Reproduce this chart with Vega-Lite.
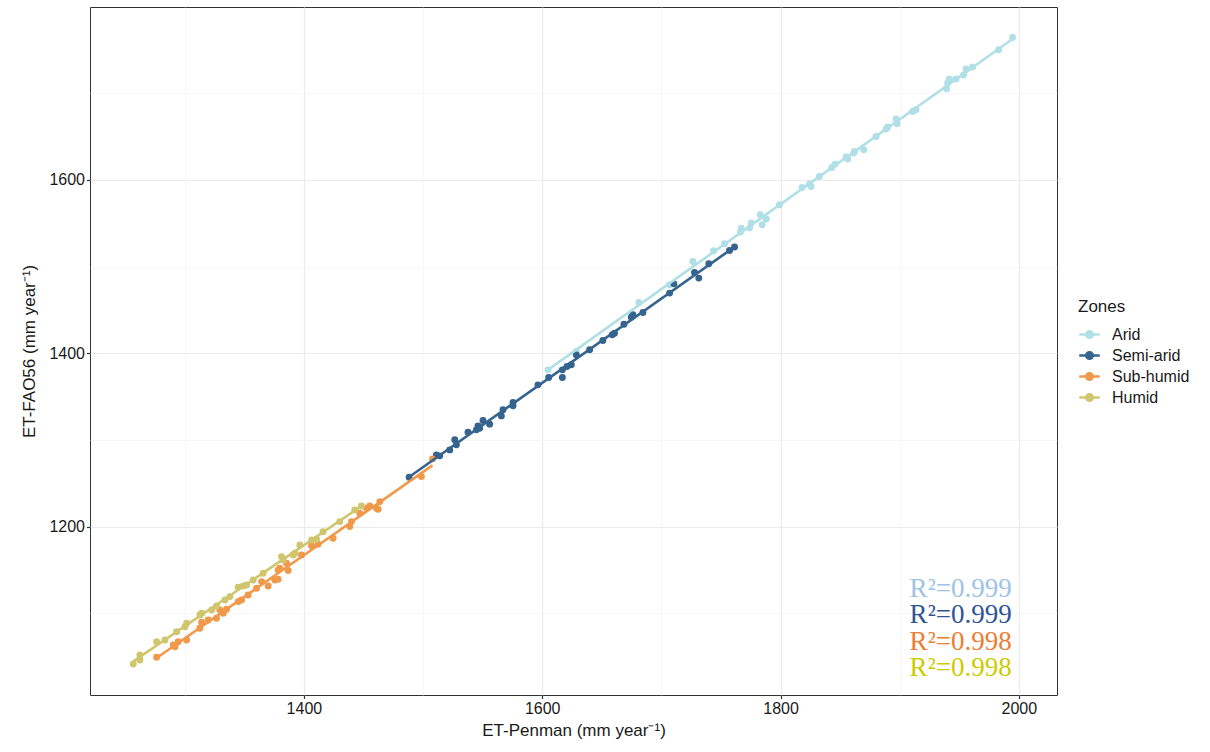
{
  "$schema": "https://vega.github.io/schema/vega-lite/v6.json",
  "width": 967,
  "height": 688,
  "autosize": {"type": "none"},
  "padding": {"left": 90, "top": 7, "right": 153, "bottom": 57},
  "background": "white",
  "config": {
    "view": {"stroke": "#333333", "strokeWidth": 1},
    "font": "Liberation Sans",
    "axis": {
      "domain": false,
      "labelFont": "Liberation Sans",
      "titleFont": "Liberation Sans",
      "labelFontSize": 16,
      "labelColor": "#1a1a1a",
      "titleFontSize": 17,
      "titleFontWeight": "normal",
      "titleColor": "#1a1a1a",
      "tickSize": 3.5,
      "tickWidth": 1.2,
      "labelPadding": 2,
      "format": "d",
      "labelExpr": "datum.value % 200 == 0 ? datum.label : ''",
      "tickColor": {"condition": {"test": "datum.value % 200 == 0", "value": "#333333"}, "value": "transparent"},
      "gridColor": {"condition": {"test": "datum.value % 200 == 0", "value": "#EBEBEB"}, "value": "#F3F3F3"},
      "gridWidth": {"condition": {"test": "datum.value % 200 == 0", "value": 1.2}, "value": 0.7}
    }
  },
  "datasets": {
    "pts": [
      {"zone": "Arid", "pen": 1994.7, "fao": 1764.2},
      {"zone": "Arid", "pen": 1983.0, "fao": 1750.0},
      {"zone": "Arid", "pen": 1961.2, "fao": 1730.1},
      {"zone": "Arid", "pen": 1955.7, "fao": 1727.8},
      {"zone": "Arid", "pen": 1953.6, "fao": 1720.8},
      {"zone": "Arid", "pen": 1947.3, "fao": 1716.2},
      {"zone": "Arid", "pen": 1941.7, "fao": 1716.2},
      {"zone": "Arid", "pen": 1940.2, "fao": 1711.6},
      {"zone": "Arid", "pen": 1939.4, "fao": 1705.0},
      {"zone": "Arid", "pen": 1913.7, "fao": 1680.8},
      {"zone": "Arid", "pen": 1910.9, "fao": 1678.8},
      {"zone": "Arid", "pen": 1897.0, "fao": 1670.1},
      {"zone": "Arid", "pen": 1897.8, "fao": 1664.6},
      {"zone": "Arid", "pen": 1890.0, "fao": 1660.8},
      {"zone": "Arid", "pen": 1888.6, "fao": 1658.5},
      {"zone": "Arid", "pen": 1880.2, "fao": 1650.0},
      {"zone": "Arid", "pen": 1869.8, "fao": 1634.7},
      {"zone": "Arid", "pen": 1862.0, "fao": 1632.7},
      {"zone": "Arid", "pen": 1861.4, "fao": 1630.8},
      {"zone": "Arid", "pen": 1855.0, "fao": 1626.2},
      {"zone": "Arid", "pen": 1856.4, "fao": 1623.9},
      {"zone": "Arid", "pen": 1845.8, "fao": 1618.1},
      {"zone": "Arid", "pen": 1843.0, "fao": 1614.2},
      {"zone": "Arid", "pen": 1832.6, "fao": 1603.8},
      {"zone": "Arid", "pen": 1825.7, "fao": 1592.3},
      {"zone": "Arid", "pen": 1818.1, "fao": 1591.1},
      {"zone": "Arid", "pen": 1824.3, "fao": 1595.1},
      {"zone": "Arid", "pen": 1799.1, "fao": 1571.2},
      {"zone": "Arid", "pen": 1788.0, "fao": 1554.7},
      {"zone": "Arid", "pen": 1782.9, "fao": 1559.7},
      {"zone": "Arid", "pen": 1784.6, "fao": 1548.1},
      {"zone": "Arid", "pen": 1775.4, "fao": 1550.1},
      {"zone": "Arid", "pen": 1774.0, "fao": 1544.3},
      {"zone": "Arid", "pen": 1767.0, "fao": 1544.3},
      {"zone": "Arid", "pen": 1766.4, "fao": 1539.7},
      {"zone": "Arid", "pen": 1753.0, "fao": 1526.2},
      {"zone": "Arid", "pen": 1743.8, "fao": 1518.1},
      {"zone": "Arid", "pen": 1726.4, "fao": 1505.8},
      {"zone": "Arid", "pen": 1706.9, "fao": 1478.9},
      {"zone": "Arid", "pen": 1681.1, "fao": 1458.5},
      {"zone": "Arid", "pen": 1628.6, "fao": 1402.0},
      {"zone": "Arid", "pen": 1604.8, "fao": 1380.8},
      {"zone": "Semi-arid", "pen": 1761.4, "fao": 1522.4},
      {"zone": "Semi-arid", "pen": 1757.2, "fao": 1518.5},
      {"zone": "Semi-arid", "pen": 1739.8, "fao": 1503.1},
      {"zone": "Semi-arid", "pen": 1727.8, "fao": 1493.1},
      {"zone": "Semi-arid", "pen": 1731.4, "fao": 1486.6},
      {"zone": "Semi-arid", "pen": 1710.5, "fao": 1480.0},
      {"zone": "Semi-arid", "pen": 1706.9, "fao": 1469.3},
      {"zone": "Semi-arid", "pen": 1684.5, "fao": 1446.9},
      {"zone": "Semi-arid", "pen": 1676.1, "fao": 1444.3},
      {"zone": "Semi-arid", "pen": 1674.7, "fao": 1441.6},
      {"zone": "Semi-arid", "pen": 1668.6, "fao": 1433.5},
      {"zone": "Semi-arid", "pen": 1660.7, "fao": 1423.1},
      {"zone": "Semi-arid", "pen": 1658.8, "fao": 1421.2},
      {"zone": "Semi-arid", "pen": 1650.9, "fao": 1414.6},
      {"zone": "Semi-arid", "pen": 1639.8, "fao": 1403.9},
      {"zone": "Semi-arid", "pen": 1628.6, "fao": 1398.1},
      {"zone": "Semi-arid", "pen": 1624.4, "fao": 1386.6},
      {"zone": "Semi-arid", "pen": 1620.8, "fao": 1384.6},
      {"zone": "Semi-arid", "pen": 1616.9, "fao": 1380.8},
      {"zone": "Semi-arid", "pen": 1616.9, "fao": 1371.9},
      {"zone": "Semi-arid", "pen": 1605.4, "fao": 1371.9},
      {"zone": "Semi-arid", "pen": 1596.4, "fao": 1363.5},
      {"zone": "Semi-arid", "pen": 1575.5, "fao": 1343.1},
      {"zone": "Semi-arid", "pen": 1575.5, "fao": 1339.3},
      {"zone": "Semi-arid", "pen": 1567.1, "fao": 1334.7},
      {"zone": "Semi-arid", "pen": 1565.7, "fao": 1327.7},
      {"zone": "Semi-arid", "pen": 1555.9, "fao": 1318.2},
      {"zone": "Semi-arid", "pen": 1550.3, "fao": 1322.3},
      {"zone": "Semi-arid", "pen": 1547.5, "fao": 1313.5},
      {"zone": "Semi-arid", "pen": 1546.1, "fao": 1316.2},
      {"zone": "Semi-arid", "pen": 1544.8, "fao": 1311.6},
      {"zone": "Semi-arid", "pen": 1537.7, "fao": 1308.9},
      {"zone": "Semi-arid", "pen": 1526.6, "fao": 1300.1},
      {"zone": "Semi-arid", "pen": 1528.0, "fao": 1294.3},
      {"zone": "Semi-arid", "pen": 1522.4, "fao": 1288.5},
      {"zone": "Semi-arid", "pen": 1514.0, "fao": 1281.6},
      {"zone": "Semi-arid", "pen": 1511.2, "fao": 1282.7},
      {"zone": "Semi-arid", "pen": 1488.3, "fao": 1257.0},
      {"zone": "Sub-humid", "pen": 1276.4, "fao": 1049.3},
      {"zone": "Sub-humid", "pen": 1290.4, "fao": 1063.5},
      {"zone": "Sub-humid", "pen": 1294.5, "fao": 1067.3},
      {"zone": "Sub-humid", "pen": 1301.6, "fao": 1069.3},
      {"zone": "Sub-humid", "pen": 1291.8, "fao": 1061.5},
      {"zone": "Sub-humid", "pen": 1312.7, "fao": 1082.8},
      {"zone": "Sub-humid", "pen": 1314.2, "fao": 1089.7},
      {"zone": "Sub-humid", "pen": 1319.7, "fao": 1092.4},
      {"zone": "Sub-humid", "pen": 1326.7, "fao": 1094.3},
      {"zone": "Sub-humid", "pen": 1329.5, "fao": 1103.9},
      {"zone": "Sub-humid", "pen": 1332.3, "fao": 1100.1},
      {"zone": "Sub-humid", "pen": 1335.1, "fao": 1104.7},
      {"zone": "Sub-humid", "pen": 1344.9, "fao": 1113.5},
      {"zone": "Sub-humid", "pen": 1347.7, "fao": 1115.4},
      {"zone": "Sub-humid", "pen": 1353.2, "fao": 1121.2},
      {"zone": "Sub-humid", "pen": 1360.3, "fao": 1128.9},
      {"zone": "Sub-humid", "pen": 1364.5, "fao": 1136.6},
      {"zone": "Sub-humid", "pen": 1370.0, "fao": 1131.6},
      {"zone": "Sub-humid", "pen": 1375.6, "fao": 1138.5},
      {"zone": "Sub-humid", "pen": 1378.4, "fao": 1139.3},
      {"zone": "Sub-humid", "pen": 1378.4, "fao": 1150.0},
      {"zone": "Sub-humid", "pen": 1379.8, "fao": 1152.0},
      {"zone": "Sub-humid", "pen": 1385.4, "fao": 1157.8},
      {"zone": "Sub-humid", "pen": 1386.8, "fao": 1149.3},
      {"zone": "Sub-humid", "pen": 1398.0, "fao": 1167.3},
      {"zone": "Sub-humid", "pen": 1406.4, "fao": 1178.0},
      {"zone": "Sub-humid", "pen": 1411.9, "fao": 1179.7},
      {"zone": "Sub-humid", "pen": 1424.5, "fao": 1186.6},
      {"zone": "Sub-humid", "pen": 1438.5, "fao": 1200.0},
      {"zone": "Sub-humid", "pen": 1439.9, "fao": 1205.8},
      {"zone": "Sub-humid", "pen": 1446.9, "fao": 1215.4},
      {"zone": "Sub-humid", "pen": 1452.5, "fao": 1221.2},
      {"zone": "Sub-humid", "pen": 1455.3, "fao": 1223.9},
      {"zone": "Sub-humid", "pen": 1460.9, "fao": 1221.2},
      {"zone": "Sub-humid", "pen": 1462.3, "fao": 1220.1},
      {"zone": "Sub-humid", "pen": 1463.7, "fao": 1228.8},
      {"zone": "Sub-humid", "pen": 1498.6, "fao": 1257.7},
      {"zone": "Sub-humid", "pen": 1507.9, "fao": 1278.1},
      {"zone": "Humid", "pen": 1256.8, "fao": 1041.6},
      {"zone": "Humid", "pen": 1262.4, "fao": 1046.2},
      {"zone": "Humid", "pen": 1262.4, "fao": 1052.0},
      {"zone": "Humid", "pen": 1276.4, "fao": 1067.3},
      {"zone": "Humid", "pen": 1283.4, "fao": 1069.3},
      {"zone": "Humid", "pen": 1293.2, "fao": 1078.8},
      {"zone": "Humid", "pen": 1300.2, "fao": 1084.6},
      {"zone": "Humid", "pen": 1301.6, "fao": 1088.5},
      {"zone": "Humid", "pen": 1312.7, "fao": 1098.1},
      {"zone": "Humid", "pen": 1314.2, "fao": 1100.1},
      {"zone": "Humid", "pen": 1322.6, "fao": 1103.9},
      {"zone": "Humid", "pen": 1326.7, "fao": 1108.5},
      {"zone": "Humid", "pen": 1333.7, "fao": 1115.4},
      {"zone": "Humid", "pen": 1337.9, "fao": 1119.3},
      {"zone": "Humid", "pen": 1344.9, "fao": 1130.1},
      {"zone": "Humid", "pen": 1349.1, "fao": 1131.6},
      {"zone": "Humid", "pen": 1351.9, "fao": 1132.7},
      {"zone": "Humid", "pen": 1357.4, "fao": 1138.5},
      {"zone": "Humid", "pen": 1365.8, "fao": 1146.2},
      {"zone": "Humid", "pen": 1381.2, "fao": 1165.4},
      {"zone": "Humid", "pen": 1382.6, "fao": 1161.6},
      {"zone": "Humid", "pen": 1391.0, "fao": 1167.3},
      {"zone": "Humid", "pen": 1392.4, "fao": 1169.3},
      {"zone": "Humid", "pen": 1396.6, "fao": 1178.9},
      {"zone": "Humid", "pen": 1406.4, "fao": 1184.7},
      {"zone": "Humid", "pen": 1410.6, "fao": 1185.5},
      {"zone": "Humid", "pen": 1416.1, "fao": 1194.2},
      {"zone": "Humid", "pen": 1430.1, "fao": 1205.8},
      {"zone": "Humid", "pen": 1442.7, "fao": 1219.3},
      {"zone": "Humid", "pen": 1448.3, "fao": 1223.9}
    ]
  },
  "layer": [
    {
      "data": {"name": "pts"},
      "mark": {"type": "point", "filled": true, "size": 48, "opacity": 1},
      "encoding": {
        "x": {"field": "pen", "type": "quantitative", "scale": {"domain": [1220.5, 2032], "nice": false, "zero": false},
              "axis": {"title": "ET-Penman (mm year⁻¹)", "values": [1300, 1400, 1500, 1600, 1700, 1800, 1900, 2000], "titlePadding": 6}},
        "y": {"field": "fao", "type": "quantitative", "scale": {"domain": [1005.8, 1799.3], "nice": false, "zero": false},
              "axis": {"title": "ET-FAO56 (mm year⁻¹)", "values": [1100, 1200, 1300, 1400, 1500, 1600, 1700], "titlePadding": 10}},
        "color": {
          "field": "zone", "type": "nominal",
          "scale": {"domain": ["Arid", "Semi-arid", "Sub-humid", "Humid"], "range": ["#B0DFE6", "#35648F", "#F0994A", "#CFC66E"]},
          "legend": {
            "orient": "none", "legendX": 988, "legendY": 292,
            "title": "Zones", "titleFontSize": 17, "titleFontWeight": "normal", "titleColor": "#1a1a1a", "titleFont": "Liberation Sans",
            "titlePadding": 7,
            "labelFontSize": 16, "labelColor": "#1a1a1a", "labelFont": "Liberation Sans", "labelOffset": 11,
            "symbolType": "M-1,0H1M-0.32,0A0.32,0.32,0,1,1,0.32,0A0.32,0.32,0,1,1,-0.32,0Z",
            "symbolSize": 420, "symbolStrokeWidth": 2.5, "rowPadding": 1,
            "encode": {"symbols": {"update": {
              "fill": {"scale": "color", "field": "value"},
              "stroke": {"scale": "color", "field": "value"},
              "strokeWidth": {"value": 2.5},
              "opacity": {"value": 1}
            }}}
          }
        }
      }
    },
    {
      "data": {"name": "pts"},
      "transform": [{"regression": "fao", "on": "pen", "groupby": ["zone"]}],
      "mark": {"type": "line", "strokeWidth": 2.6},
      "encoding": {
        "x": {"field": "pen", "type": "quantitative"},
        "y": {"field": "fao", "type": "quantitative"},
        "color": {"field": "zone", "type": "nominal"}
      }
    },
    {
      "data": {"values": [{"t": "R²=0.999"}]},
      "mark": {"type": "text", "font": "Liberation Serif", "fontSize": 27, "align": "right", "baseline": "alphabetic", "color": "#9DC3E6"},
      "encoding": {"x": {"datum": 1994}, "y": {"datum": 1118.9}, "text": {"field": "t"}}
    },
    {
      "data": {"values": [{"t": "R²=0.999"}]},
      "mark": {"type": "text", "font": "Liberation Serif", "fontSize": 27, "align": "right", "baseline": "alphabetic", "color": "#2F5597"},
      "encoding": {"x": {"datum": 1994}, "y": {"datum": 1088.9}, "text": {"field": "t"}}
    },
    {
      "data": {"values": [{"t": "R²=0.998"}]},
      "mark": {"type": "text", "font": "Liberation Serif", "fontSize": 27, "align": "right", "baseline": "alphabetic", "color": "#ED7D31"},
      "encoding": {"x": {"datum": 1994}, "y": {"datum": 1057.8}, "text": {"field": "t"}}
    },
    {
      "data": {"values": [{"t": "R²=0.998"}]},
      "mark": {"type": "text", "font": "Liberation Serif", "fontSize": 27, "align": "right", "baseline": "alphabetic", "color": "#CCCC00"},
      "encoding": {"x": {"datum": 1994}, "y": {"datum": 1027.7}, "text": {"field": "t"}}
    }
  ]
}
